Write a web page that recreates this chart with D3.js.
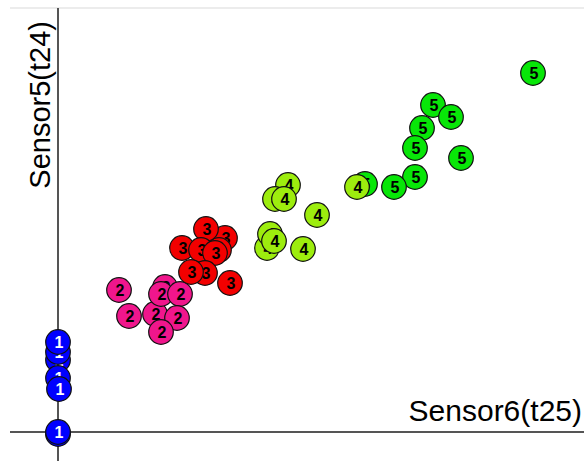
<!DOCTYPE html>
<html>
<head>
<meta charset="utf-8">
<script src="https://cdn.jsdelivr.net/npm/d3@7"></script>
<style>
  html, body { margin: 0; padding: 0; background: #fff; }
  svg { display: block; }
</style>
</head>
<body>
<svg id="chart" width="584" height="461"></svg>
<script>
// Class labels and colours (draw order: 1, 2, 3, 5, 4)
const classes = ["1", "2", "3", "5", "4"];
const classColors = { "1": "#0000ff", "2": "#f0168c", "3": "#f20000", "4": "#9ded0e", "5": "#08e608" };
const labelColors = { "1": "#ffffff", "2": "#000000", "3": "#000000", "4": "#000000", "5": "#000000" };

// Sensor6(t25) values (x) and Sensor5(t24) values (y) per class
const class1X = [0.00, 0.00, 0.00, 0.00, 0.01, 0.00, 0.00];
const class1Y = [0.72, 0.80, 0.90, 0.54, 0.43, -0.02, 0.00];

const class2X = [1.07, 0.97, 0.61, 0.71, 1.03, 1.22, 1.19, 1.03];
const class2Y = [1.45, 1.18, 1.42, 1.16, 1.38, 1.38, 1.14, 1.00];

const class3X = [1.67, 1.61, 1.48, 1.24, 1.43, 1.57, 1.47, 1.33, 1.72];
const class3Y = [1.94, 1.82, 2.03, 1.84, 1.82, 1.79, 1.59, 1.60, 1.49];

const class5X = [3.07, 4.75, 3.75, 3.93, 3.64, 3.57, 4.03, 3.57, 3.36];
const class5Y = [2.48, 3.59, 3.27, 3.15, 3.04, 2.84, 2.74, 2.55, 2.45];

const class4X = [2.30, 2.17, 2.26, 2.59, 2.09, 2.12, 2.16, 2.45, 2.99];
const class4Y = [2.47, 2.33, 2.33, 2.17, 1.84, 1.98, 1.91, 1.83, 2.45];

const xLabel = "Sensor6(t25)";
const yLabel = "Sensor5(t24)";

const seriesX = { "1": class1X, "2": class2X, "3": class3X, "4": class4X, "5": class5X };
const seriesY = { "1": class1Y, "2": class2Y, "3": class3Y, "4": class4Y, "5": class5Y };

const svg = d3.select("#chart");
const W = 584, H = 461;

const x = d3.scaleLinear().domain([0, 5.26]).range([58, 584]);
const y = d3.scaleLinear().domain([0, 4.24]).range([432, 8]);

// top light border line
svg.append("line")
  .attr("x1", 10).attr("x2", W)
  .attr("y1", y(4.24)).attr("y2", y(4.24))
  .attr("stroke", "#e6e6e6").attr("stroke-width", 1.5);

// axes through origin
svg.append("line")
  .attr("x1", 10).attr("x2", W)
  .attr("y1", y(0)).attr("y2", y(0))
  .attr("stroke", "#555").attr("stroke-width", 2);
svg.append("line")
  .attr("x1", x(0)).attr("x2", x(0))
  .attr("y1", y(4.24)).attr("y2", H)
  .attr("stroke", "#555").attr("stroke-width", 2);

// axis titles
svg.append("text")
  .attr("x", 582).attr("y", 421)
  .attr("text-anchor", "end")
  .attr("font-family", "Liberation Sans, Arial, sans-serif")
  .attr("font-size", 30)
  .attr("fill", "#000")
  .text(xLabel);

svg.append("text")
  .attr("transform", "translate(50,21) rotate(-90)")
  .attr("text-anchor", "end")
  .attr("font-family", "Liberation Sans, Arial, sans-serif")
  .attr("font-size", 29)
  .attr("fill", "#000")
  .text(yLabel);

// points
const pts = [];
classes.forEach(c => {
  seriesX[c].forEach((v, i) => pts.push({ c, x: v, y: seriesY[c][i] }));
});

const g = svg.append("g");
const node = g.selectAll("g.pt").data(pts).enter().append("g")
  .attr("class", "pt")
  .attr("transform", d => `translate(${x(d.x)},${y(d.y)})`);

node.append("circle")
  .attr("r", 12.3)
  .attr("fill", d => classColors[d.c])
  .attr("stroke", "#111")
  .attr("stroke-width", 1.2);

node.append("text")
  .attr("x", 1)
  .attr("dy", "0.36em")
  .attr("text-anchor", "middle")
  .attr("font-family", "Liberation Sans, Arial, sans-serif")
  .attr("font-weight", "bold")
  .attr("font-size", 16)
  .attr("fill", d => labelColors[d.c])
  .text(d => d.c);
</script>
</body>
</html>
